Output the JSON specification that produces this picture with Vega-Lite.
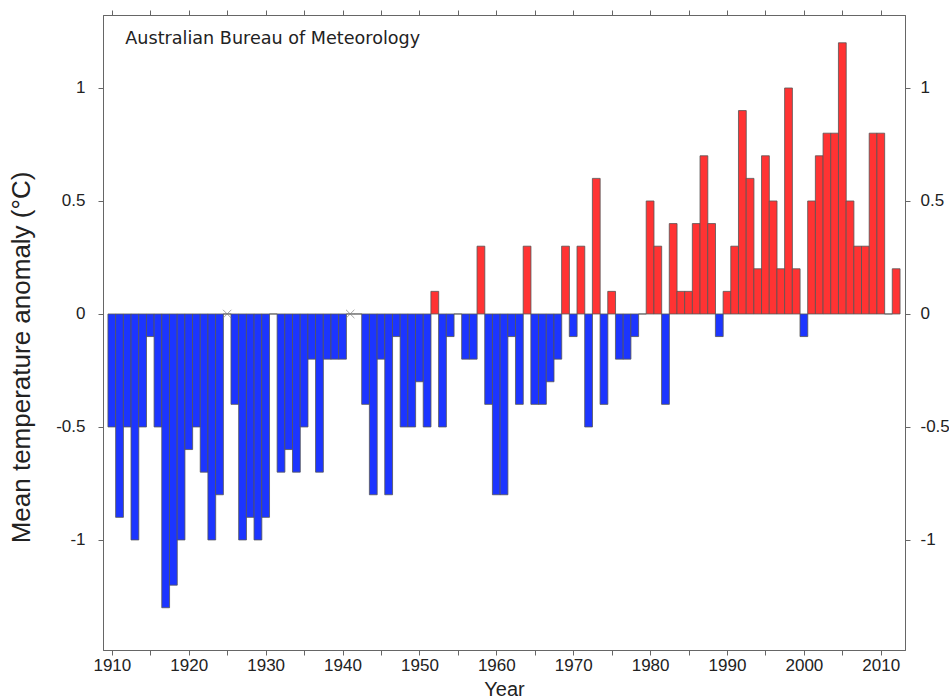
{
  "$schema": "https://vega.github.io/schema/vega-lite/v6.json",
  "width": 802,
  "height": 635,
  "autosize": {"type": "none"},
  "padding": {"left": 103, "top": 15, "right": 44, "bottom": 50},
  "background": "white",
  "config": {
    "view": {"stroke": "#666666", "strokeWidth": 1},
    "font": "Liberation Sans",
    "axis": {"domainColor": "#666666", "tickColor": "#666666", "labelColor": "#222222", "titleColor": "#222222", "grid": false, "labelFont": "Liberation Sans", "titleFont": "Liberation Sans", "titleFontWeight": "normal"}
  },
  "datasets": {
    "temps": [
      {"year": 1910, "anomaly": -0.5}, {"year": 1911, "anomaly": -0.9}, {"year": 1912, "anomaly": -0.5}, {"year": 1913, "anomaly": -1.0},
      {"year": 1914, "anomaly": -0.5}, {"year": 1915, "anomaly": -0.1}, {"year": 1916, "anomaly": -0.5}, {"year": 1917, "anomaly": -1.3},
      {"year": 1918, "anomaly": -1.2}, {"year": 1919, "anomaly": -1.0}, {"year": 1920, "anomaly": -0.6}, {"year": 1921, "anomaly": -0.5},
      {"year": 1922, "anomaly": -0.7}, {"year": 1923, "anomaly": -1.0}, {"year": 1924, "anomaly": -0.8}, {"year": 1925, "anomaly": 0},
      {"year": 1926, "anomaly": -0.4}, {"year": 1927, "anomaly": -1.0}, {"year": 1928, "anomaly": -0.9}, {"year": 1929, "anomaly": -1.0},
      {"year": 1930, "anomaly": -0.9}, {"year": 1931, "anomaly": 0}, {"year": 1932, "anomaly": -0.7}, {"year": 1933, "anomaly": -0.6},
      {"year": 1934, "anomaly": -0.7}, {"year": 1935, "anomaly": -0.5}, {"year": 1936, "anomaly": -0.2}, {"year": 1937, "anomaly": -0.7},
      {"year": 1938, "anomaly": -0.2}, {"year": 1939, "anomaly": -0.2}, {"year": 1940, "anomaly": -0.2}, {"year": 1941, "anomaly": 0},
      {"year": 1942, "anomaly": 0}, {"year": 1943, "anomaly": -0.4}, {"year": 1944, "anomaly": -0.8}, {"year": 1945, "anomaly": -0.2},
      {"year": 1946, "anomaly": -0.8}, {"year": 1947, "anomaly": -0.1}, {"year": 1948, "anomaly": -0.5}, {"year": 1949, "anomaly": -0.5},
      {"year": 1950, "anomaly": -0.3}, {"year": 1951, "anomaly": -0.5}, {"year": 1952, "anomaly": 0.1}, {"year": 1953, "anomaly": -0.5},
      {"year": 1954, "anomaly": -0.1}, {"year": 1955, "anomaly": 0}, {"year": 1956, "anomaly": -0.2}, {"year": 1957, "anomaly": -0.2},
      {"year": 1958, "anomaly": 0.3}, {"year": 1959, "anomaly": -0.4}, {"year": 1960, "anomaly": -0.8}, {"year": 1961, "anomaly": -0.8},
      {"year": 1962, "anomaly": -0.1}, {"year": 1963, "anomaly": -0.4}, {"year": 1964, "anomaly": 0.3}, {"year": 1965, "anomaly": -0.4},
      {"year": 1966, "anomaly": -0.4}, {"year": 1967, "anomaly": -0.3}, {"year": 1968, "anomaly": -0.2}, {"year": 1969, "anomaly": 0.3},
      {"year": 1970, "anomaly": -0.1}, {"year": 1971, "anomaly": 0.3}, {"year": 1972, "anomaly": -0.5}, {"year": 1973, "anomaly": 0.6},
      {"year": 1974, "anomaly": -0.4}, {"year": 1975, "anomaly": 0.1}, {"year": 1976, "anomaly": -0.2}, {"year": 1977, "anomaly": -0.2},
      {"year": 1978, "anomaly": -0.1}, {"year": 1979, "anomaly": 0}, {"year": 1980, "anomaly": 0.5}, {"year": 1981, "anomaly": 0.3},
      {"year": 1982, "anomaly": -0.4}, {"year": 1983, "anomaly": 0.4}, {"year": 1984, "anomaly": 0.1}, {"year": 1985, "anomaly": 0.1},
      {"year": 1986, "anomaly": 0.4}, {"year": 1987, "anomaly": 0.7}, {"year": 1988, "anomaly": 0.4}, {"year": 1989, "anomaly": -0.1},
      {"year": 1990, "anomaly": 0.1}, {"year": 1991, "anomaly": 0.3}, {"year": 1992, "anomaly": 0.9}, {"year": 1993, "anomaly": 0.6},
      {"year": 1994, "anomaly": 0.2}, {"year": 1995, "anomaly": 0.7}, {"year": 1996, "anomaly": 0.5}, {"year": 1997, "anomaly": 0.2},
      {"year": 1998, "anomaly": 1.0}, {"year": 1999, "anomaly": 0.2}, {"year": 2000, "anomaly": -0.1}, {"year": 2001, "anomaly": 0.5},
      {"year": 2002, "anomaly": 0.7}, {"year": 2003, "anomaly": 0.8}, {"year": 2004, "anomaly": 0.8}, {"year": 2005, "anomaly": 1.2},
      {"year": 2006, "anomaly": 0.5}, {"year": 2007, "anomaly": 0.3}, {"year": 2008, "anomaly": 0.3}, {"year": 2009, "anomaly": 0.8},
      {"year": 2010, "anomaly": 0.8}, {"year": 2011, "anomaly": 0}, {"year": 2012, "anomaly": 0.2}
    ],
    "markers": [{"year": 1925, "anomaly": 0}, {"year": 1941, "anomaly": 0}],
    "note": [{"year": 1911.75, "anomaly": 1.215, "label": "Australian Bureau of Meteorology"}]
  },
  "resolve": {"axis": {"x": "independent", "y": "independent"}},
  "layer": [
    {
      "data": {"name": "temps"},
      "mark": {"type": "bar", "width": 7.79, "stroke": "#555555", "strokeWidth": 0.8},
      "encoding": {
        "x": {
          "field": "year", "type": "quantitative",
          "scale": {"domain": [1909.5, 2012.5], "nice": false, "zero": false},
          "axis": {
            "orient": "bottom", "title": "Year", "values": [1910, 1915, 1920, 1925, 1930, 1935, 1940, 1945, 1950, 1955, 1960, 1965, 1970, 1975, 1980, 1985, 1990, 1995, 2000, 2005, 2010],
            "labelExpr": "datum.value % 10 == 0 ? '' + datum.value : ''",
            "tickSize": 5, "labelPadding": 2, "labelFontSize": 17, "titleFontSize": 20, "titlePadding": 6
          }
        },
        "y": {
          "field": "anomaly", "type": "quantitative",
          "scale": {"domain": [-1.487, 1.323], "nice": false, "zero": false},
          "axis": {
            "orient": "left", "title": "Mean temperature anomaly (°C)", "values": [-1, -0.5, 0, 0.5, 1],
            "labelExpr": "'' + datum.value", "tickSize": 5, "labelPadding": 13, "labelFontSize": 17,
            "titleFontSize": 26, "titlePadding": 21, "titleY": 342
          }
        },
        "fill": {"condition": {"test": "datum.anomaly > 0", "value": "#ff3333"}, "value": "#1c35ff"}
      }
    },
    {
      "data": {"name": "markers"},
      "mark": {"type": "point", "shape": "M-1,-1L1,1M1,-1L-1,1", "filled": false, "stroke": "#808080", "strokeWidth": 1, "size": 70},
      "encoding": {
        "x": {
          "field": "year", "type": "quantitative",
          "axis": {
            "orient": "top", "title": null, "labels": false, "tickSize": 5,
            "values": [1910, 1915, 1920, 1925, 1930, 1935, 1940, 1945, 1950, 1955, 1960, 1965, 1970, 1975, 1980, 1985, 1990, 1995, 2000, 2005, 2010]
          }
        },
        "y": {
          "field": "anomaly", "type": "quantitative",
          "axis": {
            "orient": "right", "title": null, "values": [-1, -0.5, 0, 0.5, 1],
            "labelExpr": "'' + datum.value", "tickSize": 5, "labelPadding": 10, "labelFontSize": 17
          }
        }
      }
    },
    {
      "mark": {"type": "rule", "stroke": "#666666", "strokeWidth": 1},
      "encoding": {"y": {"datum": 0, "type": "quantitative", "axis": null}}
    },
    {
      "data": {"name": "note"},
      "mark": {"type": "text", "align": "left", "baseline": "middle", "font": "DejaVu Sans", "fontSize": 17.6, "color": "#222222"},
      "encoding": {
        "x": {"field": "year", "type": "quantitative", "axis": null},
        "y": {"field": "anomaly", "type": "quantitative", "axis": null},
        "text": {"field": "label"}
      }
    }
  ]
}
